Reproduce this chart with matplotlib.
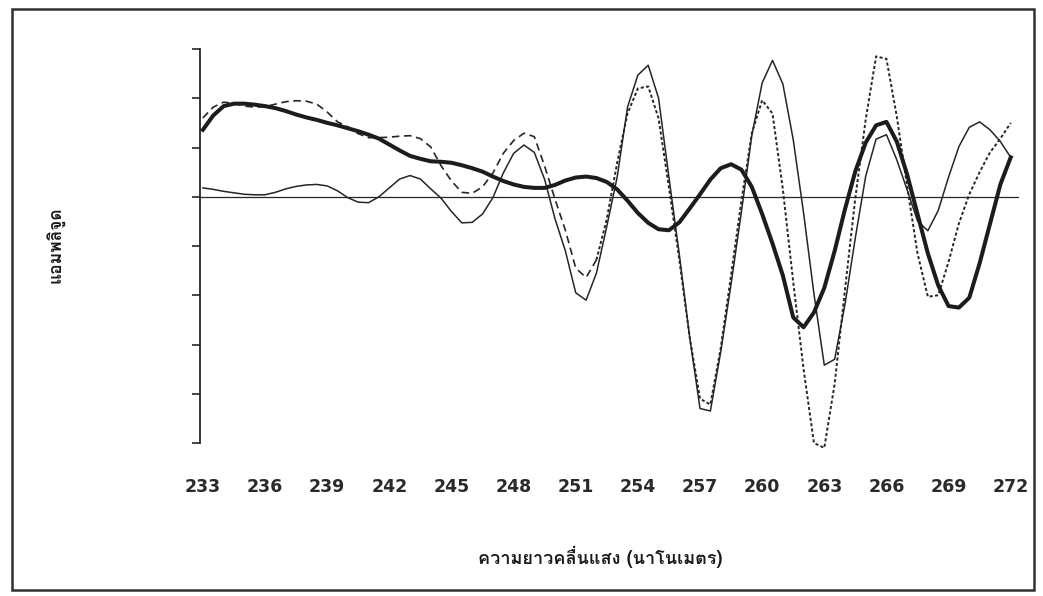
import matplotlib
matplotlib.use('Agg')
import matplotlib.pyplot as plt
import numpy as np
from matplotlib import font_manager
from matplotlib.ft2font import FT2Font
from matplotlib.patches import Rectangle

# wavelength grid in nm (0.5 nm step)
wavelength = np.arange(233, 272.5, 0.5)

thin = [0.18, 0.15, 0.11, 0.08, 0.05, 0.04, 0.04, 0.09, 0.16, 0.21,
        0.24, 0.25, 0.22, 0.12, -0.02, -0.11, -0.12, 0.00, 0.18, 0.36,
        0.43, 0.36, 0.16, -0.03, -0.30, -0.53, -0.52, -0.35, -0.02, 0.48,
        0.88, 1.05, 0.90, 0.35, -0.45, -1.10, -1.95, -2.10, -1.55, -0.60,
        0.40, 1.82, 2.47, 2.67, 2.00, 0.39, -1.17, -2.85, -4.30, -4.35,
        -3.15, -1.77, -0.30, 1.24, 2.31, 2.77, 2.29, 1.16, -0.33, -1.97,
        -3.42, -3.30, -2.18, -0.83, 0.42, 1.17, 1.26, 0.75, 0.14, -0.49,
        -0.69, -0.28, 0.40, 1.02, 1.41, 1.52, 1.36, 1.12, 0.80]

dashed = [1.60, 1.82, 1.92, 1.90, 1.84, 1.82, 1.83, 1.88, 1.93, 1.95,
          1.94, 1.88, 1.72, 1.52, 1.42, 1.28, 1.20, 1.20, 1.21, 1.23,
          1.24, 1.18, 1.01, 0.63, 0.32, 0.09, 0.07, 0.20, 0.48, 0.88,
          1.14, 1.29, 1.22, 0.62, -0.05, -0.68, -1.45, -1.64, -1.28, -0.45,
          0.69, 1.69, 2.20, 2.24, 1.59, 0.19, -1.28, -2.85, -4.10, -4.22,
          -3.07, -1.59, -0.08, 1.29, 1.96, 1.69, 0.15, -1.73, -3.50, -5.00,
          -5.10, -3.80, -1.88, -0.02, 1.57, 2.85, 2.80, 1.63, 0.21, -1.15,
          -2.03, -2.00, -1.32, -0.54, 0.05, 0.50, 0.90, 1.18, 1.50]

thick = [1.36, 1.65, 1.84, 1.89, 1.89, 1.87, 1.84, 1.80, 1.74, 1.67,
         1.61, 1.56, 1.50, 1.45, 1.39, 1.33, 1.26, 1.18, 1.06, 0.94,
         0.83, 0.77, 0.72, 0.71, 0.69, 0.64, 0.58, 0.51, 0.41, 0.32,
         0.25, 0.20, 0.18, 0.18, 0.24, 0.33, 0.39, 0.41, 0.38, 0.30,
         0.15, -0.08, -0.33, -0.53, -0.66, -0.68, -0.52, -0.24, 0.05, 0.35,
         0.58, 0.66, 0.55, 0.20, -0.35, -0.95, -1.60, -2.45, -2.65, -2.35,
         -1.85, -1.10, -0.25, 0.52, 1.10, 1.45, 1.52, 1.12, 0.45, -0.35,
         -1.15, -1.80, -2.22, -2.25, -2.05, -1.35, -0.55, 0.25, 0.80]

xticks = list(range(233, 273, 3))
yticks = list(range(-5, 4))

xlabel = 'ความยาวคลื่นแสง (นาโนเมตร)'
ylabel = 'แอมพลิจูด'


def thai_family():
    # first installed font that actually has Thai glyphs
    for f in font_manager.fontManager.ttflist:
        try:
            if 0x0E01 in FT2Font(f.fname).get_charmap():
                return f.name
        except Exception:
            pass
    return 'DejaVu Sans'


thai = thai_family()
ink = '#262626'

fig = plt.figure(figsize=(10.43, 5.96), dpi=100)
fig.patch.set_facecolor('white')
fig.patches.append(Rectangle((12 / 1043, 1 - 590 / 596), 1022 / 1043, 581 / 596,
                             transform=fig.transFigure, fill=False,
                             edgecolor='#303030', linewidth=1.8))

ax = fig.add_axes([200 / 1043, 1 - 443 / 596, 819 / 1043, 394 / 596])
ax.set_xlim(232.86, 272.4)
ax.set_ylim(-5, 3)

ax.axhline(0, color=ink, linewidth=0.9, zorder=1)

lam = wavelength
d = np.array(dashed)
left = lam <= 252
right = lam >= 252
ax.plot(lam, thin, color=ink, linewidth=1.1, zorder=2, clip_on=False)
ax.plot(lam[left], d[left], color=ink, linewidth=1.2, dashes=(4.5, 2.8),
        zorder=2, clip_on=False)
ax.plot(lam[right], d[right], color=ink, linewidth=1.4, dashes=(1.6, 1.2),
        zorder=2, clip_on=False)
ax.plot(lam, thick, color='#1c1c1c', linewidth=2.9, zorder=3, clip_on=False,
        solid_joinstyle='round')

for s in ['top', 'right', 'bottom']:
    ax.spines[s].set_visible(False)
ax.spines['left'].set_color(ink)
ax.spines['left'].set_linewidth(1.3)

ax.set_yticks(yticks)
ax.set_yticklabels([])
ax.tick_params(axis='y', direction='out', length=6, width=1.2, color=ink)

ax.set_xticks(xticks)
ax.set_xticklabels([str(t) for t in xticks], fontsize=12.5, color='#2a2a2a',
                   family='DejaVu Sans', fontweight='bold')
ax.tick_params(axis='x', length=0, pad=25)

fig.text(600 / 1043, 1 - 557 / 596, xlabel, ha='center', va='center',
         fontsize=13, fontweight='bold', color='#1a1a1a',
         family=[thai, 'DejaVu Sans'])
fig.text(55 / 1043, 1 - 245 / 596, ylabel, ha='center', va='center',
         rotation=90, fontsize=12.5, fontweight='bold', color='#1a1a1a',
         family=[thai, 'DejaVu Sans'])

fig.savefig('out.png', dpi=100)
